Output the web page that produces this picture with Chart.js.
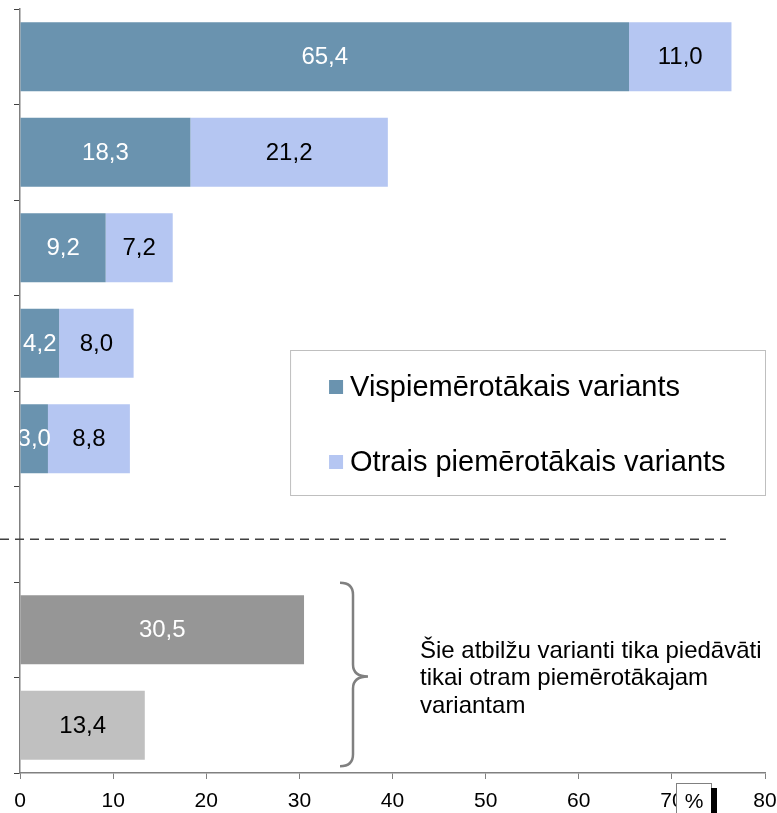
<!DOCTYPE html>
<html lang="lv">
<head>
    <meta charset="UTF-8">
    <title>Vispiemērotākais un otrais piemērotākais variants</title>
    <style>
        body {
            margin: 0;
            padding: 0;
            background-color: #ffffff;
        }
        canvas {
            display: block;
        }
    </style>
    <script src="https://cdn.jsdelivr.net/npm/chart.js"></script>
</head>
<body>
    <canvas id="chart" width="777" height="813"></canvas>

    <script>
        // rows top to bottom; row 6 is the empty gap with the dashed separator
        const categories = ['', '', '', '', '', '', '', ''];
        const bestValues = [65.4, 18.3, 9.2, 4.2, 3.0, null, null, null];
        const secondValues = [11.0, 21.2, 7.2, 8.0, 8.8, null, null, null];
        const secondOnlyValues = [null, null, null, null, null, null, 30.5, 13.4];
        const xTicks = [0, 10, 20, 30, 40, 50, 60, 70, 80];

        const seriesNames = ['Vispiemērotākais variants', 'Otrais piemērotākais variants'];
        const noteLines = ['Šie atbilžu varianti tika piedāvāti', 'tikai otram piemērotākajam', 'variantam'];
        const unitLabel = '%';

        const fontFamily = '"Liberation Sans", Arial, sans-serif';

        function fmt(v) {
            return v.toFixed(1).replace('.', ',');
        }

        const labelsPlugin = {
            id: 'barLabels',
            afterDatasetsDraw(chart) {
                const ctx = chart.ctx;
                const area = chart.chartArea;
                ctx.save();
                ctx.beginPath();
                ctx.rect(area.left, area.top, area.right - area.left, area.bottom - area.top);
                ctx.clip();
                ctx.font = '24px ' + fontFamily;
                ctx.textAlign = 'center';
                ctx.textBaseline = 'middle';
                chart.data.datasets.forEach((ds, di) => {
                    const meta = chart.getDatasetMeta(di);
                    meta.data.forEach((bar, i) => {
                        const v = ds.data[i];
                        if (v === null || v === undefined) return;
                        const col = Array.isArray(ds.labelColor) ? ds.labelColor[i] : ds.labelColor;
                        ctx.fillStyle = col;
                        ctx.fillText(fmt(v), (bar.x + bar.base) / 2, bar.y + 1);
                    });
                });
                ctx.restore();
            }
        };

        const extrasPlugin = {
            id: 'extras',
            afterDraw(chart) {
                const ctx = chart.ctx;
                const x = chart.scales.x;
                const y = chart.scales.y;
                const area = chart.chartArea;
                ctx.save();

                // dashed separator
                const sepY = y.getPixelForValue(5) + 5;
                ctx.strokeStyle = '#404040';
                ctx.lineWidth = 1.5;
                ctx.setLineDash([9, 6]);
                ctx.beginPath();
                ctx.moveTo(0, sepY);
                ctx.lineTo(x.getPixelForValue(75.8), sepY);
                ctx.stroke();
                ctx.setLineDash([]);

                // legend box
                const lx = x.getPixelForValue(29);
                const lw = area.right - lx;
                const ly = 350, lh = 145;
                ctx.strokeStyle = '#bfbfbf';
                ctx.lineWidth = 1;
                ctx.strokeRect(lx + 0.5, ly + 0.5, lw, lh);
                ctx.font = '29px ' + fontFamily;
                ctx.textAlign = 'left';
                ctx.textBaseline = 'middle';
                const legendColors = [chart.data.datasets[0].backgroundColor, chart.data.datasets[1].backgroundColor];
                [387, 462].forEach((cy, i) => {
                    ctx.fillStyle = legendColors[i];
                    ctx.fillRect(lx + 39, cy - 7, 14, 14);
                    ctx.fillStyle = '#000';
                    ctx.fillText(seriesNames[i], lx + 60, cy + 1);
                });

                // curly brace next to the grey bars
                const top = y.getPixelForValue(6) - 47;
                const bot = y.getPixelForValue(7) + 41;
                const mid = (top + bot) / 2 + 2;
                const bx = 366, r = 12;
                ctx.strokeStyle = '#808080';
                ctx.lineWidth = 2.5;
                ctx.beginPath();
                ctx.moveTo(bx - 26, top);
                ctx.quadraticCurveTo(bx - 13, top, bx - 13, top + r);
                ctx.lineTo(bx - 13, mid - r);
                ctx.quadraticCurveTo(bx - 13, mid, bx + 2, mid);
                ctx.quadraticCurveTo(bx - 13, mid, bx - 13, mid + r);
                ctx.lineTo(bx - 13, bot - r);
                ctx.quadraticCurveTo(bx - 13, bot, bx - 26, bot);
                ctx.stroke();

                // note text
                ctx.fillStyle = '#000';
                ctx.font = '24px ' + fontFamily;
                noteLines.forEach((t, i) => {
                    ctx.fillText(t, 420, 651 + i * 27.5);
                });

                // unit box over the axis labels
                ctx.fillStyle = '#fff';
                ctx.fillRect(676, 783, 35, 31);
                ctx.strokeStyle = '#808080';
                ctx.lineWidth = 1;
                ctx.strokeRect(676.5, 783.5, 35, 31);
                ctx.fillStyle = '#000';
                ctx.textAlign = 'center';
                ctx.font = '21px ' + fontFamily;
                ctx.fillText(unitLabel, 694, 802);
                ctx.fillRect(711, 788, 6, 25);

                ctx.restore();
            }
        };

        new Chart(document.getElementById('chart').getContext('2d'), {
            type: 'bar',
            data: {
                labels: categories,
                datasets: [{
                    label: seriesNames[0],
                    data: bestValues,
                    backgroundColor: '#6a93af',
                    labelColor: '#ffffff'
                }, {
                    label: seriesNames[1],
                    data: secondValues,
                    backgroundColor: '#b5c6f2',
                    labelColor: '#000000'
                }, {
                    label: 'secondOnly',
                    data: secondOnlyValues,
                    backgroundColor: ['#969696', '#969696', '#969696', '#969696', '#969696', '#969696', '#969696', '#c0c0c0'],
                    labelColor: ['#fff', '#fff', '#fff', '#fff', '#fff', '#fff', '#ffffff', '#000000']
                }]
            },
            options: {
                indexAxis: 'y',
                responsive: false,
                devicePixelRatio: 1,
                animation: false,
                barPercentage: 0.72,
                categoryPercentage: 1,
                layout: {
                    padding: { left: 14, top: 9, right: 12, bottom: 0 }
                },
                scales: {
                    x: {
                        stacked: true,
                        min: 0,
                        max: 80,
                        afterBuildTicks: (scale) => {
                            scale.ticks = xTicks.map(v => ({ value: v }));
                        },
                        afterFit: (scale) => {
                            scale.height = 40;
                            scale.paddingLeft = 0;
                            scale.paddingRight = 0;
                        },
                        ticks: {
                            color: '#000',
                            font: { family: fontFamily, size: 21 },
                            padding: 10
                        },
                        grid: {
                            drawOnChartArea: false,
                            tickLength: 6,
                            color: '#808080'
                        },
                        border: { color: '#808080', width: 1.5 }
                    },
                    y: {
                        stacked: true,
                        ticks: { display: false },
                        grid: {
                            drawOnChartArea: false,
                            tickLength: 6,
                            color: '#404040',
                            offset: true
                        },
                        border: { color: '#808080', width: 1.5 }
                    }
                },
                plugins: {
                    legend: { display: false },
                    tooltip: { enabled: false }
                }
            },
            plugins: [labelsPlugin, extrasPlugin]
        });
    </script>
</body>
</html>
